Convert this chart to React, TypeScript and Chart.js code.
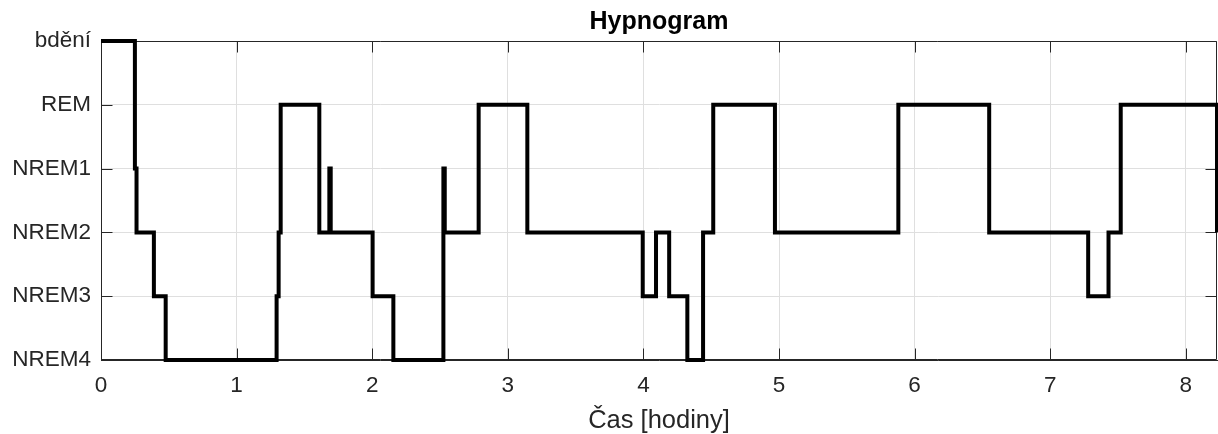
import React, { useEffect, useRef } from 'react';
import { Chart, registerables } from 'chart.js';

Chart.register(...registerables);

// Sleep stages, bottom to top
const stageLabels = ['NREM4', 'NREM3', 'NREM2', 'NREM1', 'REM', 'bdění'];

// Start time (hours) of each stage segment; the last entry is the end of the recording
const times = [
  0, 0.25, 0.262, 0.39, 0.477, 1.295, 1.31, 1.325, 1.61, 1.684, 1.694, 2.003, 2.156,
  2.525, 2.535, 2.785, 3.144, 3.995, 4.093, 4.19, 4.324, 4.44, 4.515, 4.97, 5.88,
  6.55, 7.28, 7.43, 7.52, 8.23,
];

// Stage held from the matching time onwards
const stages = [
  'bdění', 'NREM1', 'NREM2', 'NREM3', 'NREM4', 'NREM3', 'NREM2', 'REM', 'NREM2', 'NREM1',
  'NREM2', 'NREM3', 'NREM4', 'NREM1', 'NREM2', 'REM', 'NREM2', 'NREM3', 'NREM2', 'NREM3',
  'NREM4', 'NREM2', 'REM', 'NREM2', 'REM', 'NREM2', 'NREM3', 'NREM2', 'REM', 'NREM2',
];

const xMax = 8.23;
const FONT = "'Liberation Sans', Arial, Helvetica, sans-serif";
const AXIS = '#262626';
const GRID = '#dfdfdf';

const framePlugin = {
  id: 'frameTicks',
  beforeDatasetsDraw(chart: any) {
    const { ctx, chartArea } = chart;
    const { left, right, top, bottom } = chartArea;
    const xs = chart.scales.x;
    const ys = chart.scales.y;
    const L = 11;
    ctx.save();
    ctx.strokeStyle = AXIS;
    ctx.lineWidth = 1;
    ctx.beginPath();
    const l = Math.round(left) + 0.5;
    const r = Math.round(right) - 0.5;
    const t = Math.round(top) + 0.5;
    const b = Math.round(bottom) - 0.5;
    ctx.moveTo(l, t); ctx.lineTo(r, t); ctx.lineTo(r, b); ctx.lineTo(l, b); ctx.closePath();
    xs.ticks.forEach((tk: any) => {
      const px = Math.round(xs.getPixelForValue(tk.value)) + 0.5;
      ctx.moveTo(px, b); ctx.lineTo(px, b - L);
      ctx.moveTo(px, t); ctx.lineTo(px, t + L);
    });
    ys.ticks.forEach((tk: any) => {
      const py = Math.round(ys.getPixelForValue(tk.value)) + 0.5;
      ctx.moveTo(l, py); ctx.lineTo(l + L, py);
      ctx.moveTo(r, py); ctx.lineTo(r - L, py);
    });
    ctx.stroke();
    ctx.restore();
  },
};

export default function App() {
  const ref = useRef<HTMLCanvasElement | null>(null);

  useEffect(() => {
    document.body.style.margin = '0';
    const canvas = ref.current;
    if (!canvas) return;
    const data = times.map((t, i) => ({ x: t, y: stageLabels.indexOf(stages[i]) }));
    const chart = new Chart(canvas, {
      type: 'line',
      data: {
        datasets: [
          {
            data,
            stepped: 'before',
            borderColor: '#000000',
            borderWidth: 4,
            pointRadius: 0,
            fill: false,
            clip: false as any,
            borderJoinStyle: 'miter',
          },
        ],
      },
      options: {
        animation: false,
        responsive: false,
        devicePixelRatio: 1,
        layout: { padding: { top: 0, right: 1, bottom: 0, left: 0 } },
        plugins: {
          legend: { display: false },
          tooltip: { enabled: false },
          title: {
            display: true,
            text: 'Hypnogram',
            fullSize: false,
            color: '#000000',
            font: { family: FONT, size: 25, weight: 'bold', lineHeight: 1.2 },
            padding: { top: 7.5, bottom: 3.5 },
          },
        },
        scales: {
          x: {
            type: 'linear',
            min: 0,
            max: xMax,
            ticks: {
              stepSize: 1,
              includeBounds: false,
              maxRotation: 0,
              color: AXIS,
              padding: 12.5,
              font: { family: FONT, size: 22.5 },
            },
            grid: { color: GRID, drawTicks: false },
            border: { color: AXIS },
            title: {
              display: true,
              text: 'Čas [hodiny]',
              color: AXIS,
              font: { family: FONT, size: 25.5, lineHeight: 1 },
              padding: { top: 0, bottom: 0.5 },
            },
            afterFit: (s: any) => {
              s.height = 74;
            },
          },
          y: {
            type: 'linear',
            min: 0,
            max: stageLabels.length - 1,
            ticks: {
              stepSize: 1,
              color: AXIS,
              padding: 10,
              font: { family: FONT, size: 22.5 },
              callback: (v: any) => stageLabels[v as number] ?? '',
            },
            grid: { color: GRID, drawTicks: false },
            border: { color: AXIS },
            afterFit: (s: any) => {
              s.width = 101;
            },
          },
        },
      },
      plugins: [framePlugin],
    });
    return () => chart.destroy();
  }, []);

  return (
    <div style={{ width: 1218, height: 434 }}>
      <canvas ref={ref} width={1218} height={434} style={{ display: 'block' }} />
    </div>
  );
}
